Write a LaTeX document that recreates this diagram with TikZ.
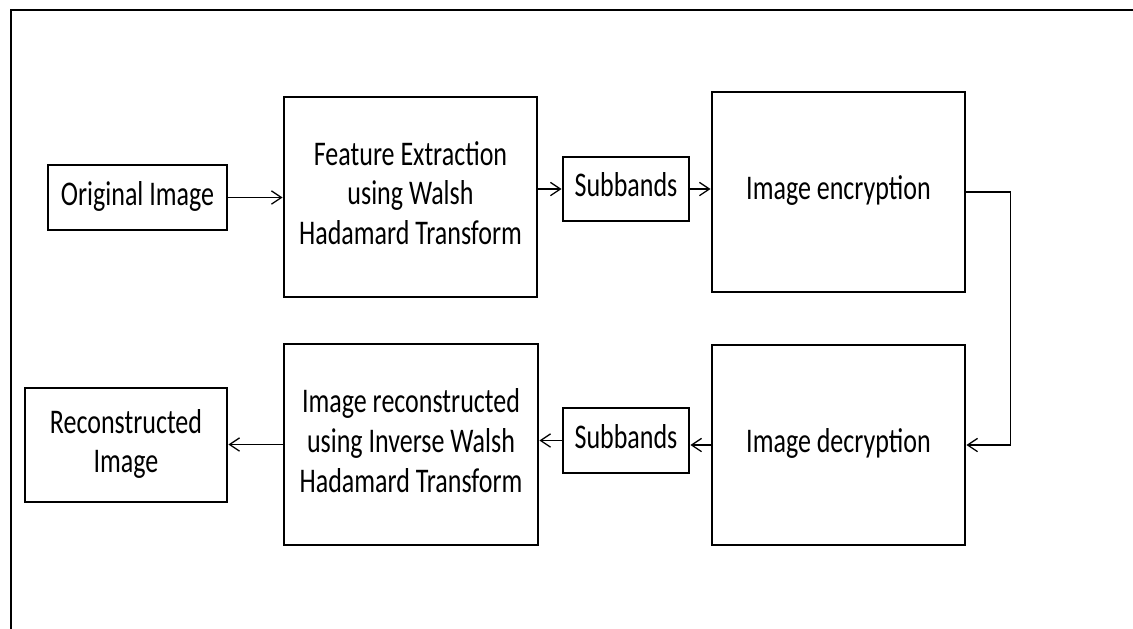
\documentclass[tikz,border=0pt]{standalone}
\usepackage{fontspec}
\usepackage{graphicx}
\setmainfont{Carlito}
\usetikzlibrary{arrows.meta}
\newcommand\vtxt[1]{\scalebox{1}[1.33]{\begin{tabular}{@{}c@{}}#1\end{tabular}}}
\tikzset{
  blk/.style={draw, line width=2.2pt, inner sep=0pt, font=\fontsize{19.5}{22.5}\selectfont},
  arr/.style={line width=0.95pt, -{Straight Barb[length=7.5pt,width=10pt]}},
}
\begin{document}
\begin{tikzpicture}[x=0.75pt,y=-0.75pt]
\useasboundingbox (0,0) rectangle (1133,629);
\draw[line width=1.6pt] (11,640) -- (11,10) -- (1140,10);
\node[blk, minimum width=134.25pt, minimum height=48.75pt] (orig) at (137.5,197.5) {\vtxt{Original Image}};
\node[blk, minimum width=189.75pt, minimum height=150pt] (feat) at (410.5,197) {\vtxt{Feature Extraction\\using Walsh\\Hadamard Transform}};
\node[blk, minimum width=94.5pt, minimum height=48pt] (sub1) at (626,189) {\vtxt{Subbands}};
\node[blk, minimum width=189.75pt, minimum height=150pt] (enc) at (838.5,192) {\vtxt{Image encryption}};
\node[blk, minimum width=189.75pt, minimum height=150pt] (dec) at (838.5,445) {\vtxt{Image decryption}};
\node[blk, minimum width=94.5pt, minimum height=48.75pt] (sub2) at (626,440.5) {\vtxt{Subbands}};
\node[blk, minimum width=190.5pt, minimum height=150.75pt] (rec) at (411,444.5) {\vtxt{Image reconstructed\\using Inverse Walsh\\Hadamard Transform}};
\node[blk, minimum width=151.5pt, minimum height=85.5pt] (recimg) at (126,445) {\vtxt{Reconstructed\\Image}};
\draw[arr] (orig.east) -- (orig.east -| feat.west);
\draw[arr] (sub1.west -| feat.east) -- (sub1.west);
\draw[arr] (sub1.east) -- (sub1.east -| enc.west);
\draw[arr] (enc.east) -- ++(44,0) |- (dec.east);
\draw[arr] (dec.west) -- (dec.west -| sub2.east);
\draw[arr] (sub2.west) -- (sub2.west -| rec.east);
\draw[arr] (rec.west) -- (rec.west -| recimg.east);
\end{tikzpicture}
\end{document}
